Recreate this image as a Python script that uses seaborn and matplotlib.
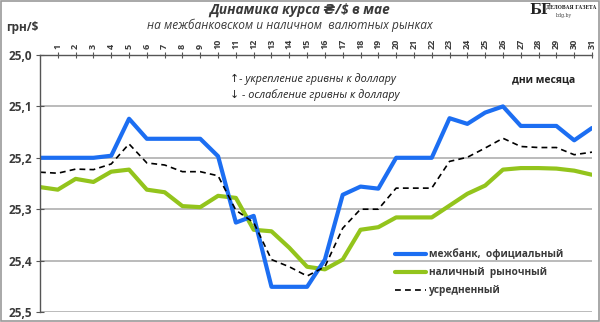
import matplotlib
matplotlib.use("Agg")
import matplotlib.pyplot as plt
from matplotlib.patches import Rectangle
import pandas as pd
import seaborn as sns

# Exchange rates, UAH per USD; day 0 is the closing value of April 30
days = list(range(0, 32))
interbank = [25.200, 25.200, 25.200, 25.200, 25.196, 25.124, 25.163, 25.163,
             25.163, 25.163, 25.197, 25.326, 25.313, 25.451, 25.451, 25.451,
             25.398, 25.272, 25.256, 25.260, 25.200, 25.200, 25.200, 25.123,
             25.134, 25.112, 25.100, 25.138, 25.138, 25.138, 25.166, 25.142]
cash = [25.257, 25.262, 25.241, 25.247, 25.227, 25.223, 25.262, 25.267,
        25.294, 25.296, 25.274, 25.278, 25.340, 25.343, 25.375, 25.412,
        25.417, 25.398, 25.340, 25.335, 25.316, 25.316, 25.316, 25.293,
        25.270, 25.254, 25.223, 25.220, 25.220, 25.221, 25.225, 25.233]
average = [25.228, 25.230, 25.222, 25.223, 25.212, 25.173, 25.210, 25.214,
           25.227, 25.227, 25.235, 25.302, 25.326, 25.398, 25.412, 25.430,
           25.412, 25.337, 25.300, 25.300, 25.259, 25.259, 25.259, 25.207,
           25.199, 25.181, 25.162, 25.178, 25.180, 25.180, 25.194, 25.189]
series_names = ["межбанк,  официальный", "наличный  рыночный", "усредненный"]
day_labels = [str(d) for d in range(1, 32)]
y_ticks = [25.0, 25.1, 25.2, 25.3, 25.4, 25.5]

sns.set_style("white")
plt.rcParams["font.family"] = ["Open Sans", "DejaVu Sans"]

TEXT = "#3a3a3a"
BLUE = "#1c6ef2"
GREEN = "#93c41c"

df = pd.DataFrame({"day": days, "interbank": interbank,
                   "cash": cash, "average": average})

fig = plt.figure(figsize=(6.0, 3.22), dpi=100)
ax = fig.add_axes([40 / 600, 10 / 322, 552 / 600, 257 / 322])

sns.lineplot(data=df, x="day", y="interbank", ax=ax, color=BLUE,
             linewidth=3.0, label=series_names[0], zorder=4)
sns.lineplot(data=df, x="day", y="cash", ax=ax, color=GREEN,
             linewidth=3.0, label=series_names[1], zorder=3)
sns.lineplot(data=df, x="day", y="average", ax=ax, color="black",
             linewidth=1.2, linestyle=(0, (3.5, 2.5)), label=series_names[2],
             zorder=5)

ax.set_xlim(0, 31)
ax.set_ylim(25.5, 25.0)
ax.set_xlabel("")
ax.set_ylabel("")

# Category axis on top, at 25,0
ax.xaxis.tick_top()
ax.set_xticks(range(1, 32))
ax.set_xticklabels(day_labels, rotation=90, fontsize=6.5,
                   fontweight="bold", color=TEXT)
ax.tick_params(axis="x", direction="inout", length=5, width=0.8,
               color="#555555", pad=2, top=True, bottom=False)

ax.set_yticks(y_ticks)
ax.set_yticklabels([f"{v:.1f}".replace(".", ",") for v in y_ticks],
                   fontsize=8.5, fontweight="bold", color=TEXT)
ax.tick_params(axis="y", direction="inout", length=6, width=0.8,
               color="#555555", pad=3, left=True)

ax.yaxis.grid(True, color="#a8a8a8", linewidth=1.1)
ax.xaxis.grid(False)
for side in ("right", "bottom"):
    ax.spines[side].set_visible(False)
for side in ("top", "left"):
    ax.spines[side].set_color("#555555")
    ax.spines[side].set_linewidth(1.0)
    ax.spines[side].set_zorder(6)

leg = ax.legend(loc="lower right", bbox_to_anchor=(0.965, 0.025),
                frameon=False, handlelength=3.0, handletextpad=0.35,
                labelspacing=0.7, prop={"size": 7.3, "weight": "bold"})
for t in leg.get_texts():
    t.set_color(TEXT)

# Annotations inside the plot area
ax.text(0.345, 0.905, "↑- укрепление гривны к доллару", transform=ax.transAxes,
        fontsize=7.8, style="italic", color="#222222", va="center")
ax.text(0.345, 0.843, "↓ - ослабление гривны к доллару", transform=ax.transAxes,
        fontsize=7.8, style="italic", color="#222222", va="center")
ax.text(0.855, 0.905, "дни месяца", transform=ax.transAxes,
        fontsize=7.5, fontweight="bold", color="#222222", va="center")

# Titles
fig.text(0.5, 1 - 10 / 322, "Динамика курса ₴/$ в мае", ha="center",
         va="center", fontsize=9.8, fontweight="bold", style="italic",
         color=TEXT)
fig.text(290 / 600, 1 - 25 / 322, "на межбанковском и наличном  валютных рынках",
         ha="center", va="center", fontsize=8.6, style="italic", color=TEXT)
fig.text(6 / 600, 1 - 28 / 322, "грн/$", ha="left", va="center",
         fontsize=8.5, fontweight="bold", color=TEXT)

# Newspaper mark
fig.text(540 / 600, 1 - 10 / 322, "БГ", ha="center", va="center",
         fontsize=10, fontweight="bold", family="DejaVu Serif", color="#222222")
fig.text(571 / 600, 1 - 7 / 322, "ДЕЛОВАЯ ГАЗЕТА", ha="center", va="center",
         fontsize=3.3, fontweight="bold", family="DejaVu Serif", color="#222222")
fig.text(564 / 600, 1 - 15 / 322, "bdg.by", ha="center", va="center",
         fontsize=3.3, family="DejaVu Serif", color="#444444")

# Frame around the whole picture
fig.patches.append(Rectangle((0.001, 0.002), 0.997, 0.995,
                             transform=fig.transFigure, fill=False,
                             edgecolor="#9a9a9a", linewidth=1.2))

fig.savefig("out.png", dpi=100)
